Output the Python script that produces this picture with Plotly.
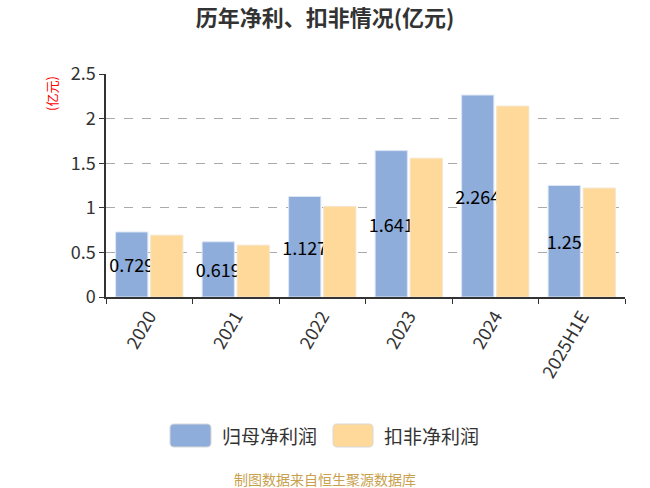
import plotly.graph_objects as go

# data (亿元)
years = ['2020', '2021', '2022', '2023', '2024', '2025H1E']
net_profit = [0.729, 0.619, 1.127, 1.641, 2.264, 1.25]
net_profit_deducted = [0.693, 0.581, 1.016, 1.556, 2.140, 1.221]
series_names = ['归母净利润', '扣非净利润']
colors = ['#8eaddb', '#ffd99a']

FONT = 'Noto Sans CJK SC'

fig = go.Figure()
fig.add_trace(go.Bar(
    x=years, y=net_profit, name=series_names[0],
    marker=dict(color=colors[0], line=dict(color='#dde6f5', width=1)),
    text=[str(v) for v in net_profit], textposition='inside', textangle=0,
    insidetextanchor='middle', constraintext='none',
    textfont=dict(size=18, color='#000000', family=FONT),
    cliponaxis=False, showlegend=False,
))
fig.add_trace(go.Bar(
    x=years, y=net_profit_deducted, name=series_names[1],
    marker=dict(color=colors[1], line=dict(color='#f3e6cf', width=1)),
    showlegend=False,
))

fig.update_layout(
    width=650,
    height=488,
    plot_bgcolor='white',
    paper_bgcolor='white',
    font=dict(family=FONT, size=18, color='#333333'),
    margin=dict(l=106, r=25, t=74, b=191),
    barmode='group',
    bargap=0.19,
    bargroupgap=0.08,
    title=dict(text='<b>历年净利、扣非情况(亿元)</b>', x=0.5, xanchor='center',
               y=0.962, yanchor='middle', font=dict(size=22, color='#333333')),
)

fig.update_yaxes(range=[0, 2.5], dtick=0.5, showgrid=True, gridcolor='#aaaaaa',
                 griddash='dash', gridwidth=1, showline=True, linecolor='#333333',
                 linewidth=1.5, ticks='outside', ticklen=5, tickcolor='#333333',
                 zeroline=False, tickfont=dict(size=18, color='#333333'))
fig.update_xaxes(type='category', showline=True, linecolor='#333333', linewidth=1.5,
                 ticks='outside', ticklen=5, tickcolor='#333333', tickson='boundaries',
                 tickangle=-60, showgrid=False, tickfont=dict(size=18, color='#333333'))

# axis unit label
fig.add_annotation(text='(亿元)', xref='paper', yref='paper', x=-0.105, y=1.0,
                   xanchor='center', yanchor='top', textangle=-90, showarrow=False,
                   font=dict(size=13, color='#ff0000'))

# legend drawn by hand: rounded swatches + labels
legend_items = [(170, 211, 220), (333, 373, 382)]
for (x0, x1, tx), name, col in zip(legend_items, series_names, colors):
    fx0, fx1 = (x0 - 106) / 519, (x1 - 106) / 519
    fy0, fy1 = (297 - 447) / 223, (297 - 424) / 223
    r = 0.008
    ry = r * 519 / 223
    path = (f'M {fx0 + r},{fy0} L {fx1 - r},{fy0} Q {fx1},{fy0} {fx1},{fy0 + ry} '
            f'L {fx1},{fy1 - ry} Q {fx1},{fy1} {fx1 - r},{fy1} L {fx0 + r},{fy1} '
            f'Q {fx0},{fy1} {fx0},{fy1 - ry} L {fx0},{fy0 + ry} Q {fx0},{fy0} {fx0 + r},{fy0} Z')
    fig.add_shape(type='path', path=path, xref='paper', yref='paper',
                  fillcolor=col, line=dict(color='#d8d8d8', width=1))
    fig.add_annotation(text=name, xref='paper', yref='paper', x=(tx - 106) / 519,
                       y=(297 - 435.5) / 223, xanchor='left', yanchor='middle',
                       showarrow=False, font=dict(size=19, color='#333333'))

fig.add_annotation(text='制图数据来自恒生聚源数据库', xref='paper', yref='paper',
                   x=(325 - 106) / 519, y=(297 - 478.5) / 223, xanchor='center',
                   yanchor='middle', showarrow=False,
                   font=dict(size=14, color='#c9a14e'))

# page body has a default 8px margin that pushes the figure off the window
fig.write_html("out.html", config={'displayModeBar': False},
               post_script="document.body.style.margin='0px';")
